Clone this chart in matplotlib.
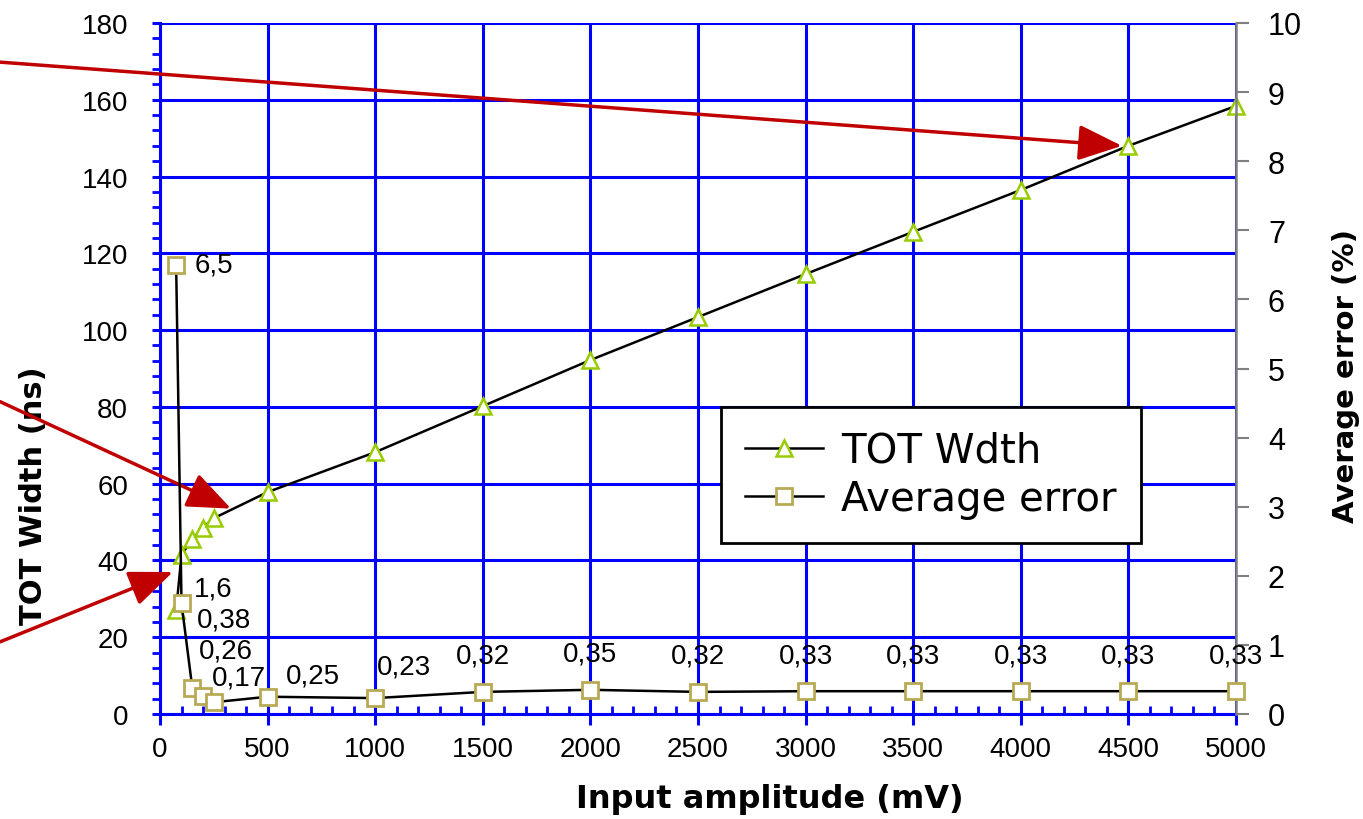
import numpy as np
import matplotlib.pyplot as plt
from matplotlib.ticker import MultipleLocator

# input amplitude (mV)
amplitude = [75, 100, 150, 200, 250, 500, 1000, 1500, 2000, 2500,
             3000, 3500, 4000, 4500, 5000]
# TOT width (ns)
tot_width = [27, 41.5, 45.5, 48.5, 51, 57.8, 68.2, 80.2, 92.2, 103.4,
             114.6, 125.6, 136.5, 148, 158.4]
# average error (%)
avg_error = [6.5, 1.6, 0.38, 0.26, 0.17, 0.25, 0.23, 0.32, 0.35, 0.32,
             0.33, 0.33, 0.33, 0.33, 0.33]

# label offsets in pixels (dx, dy, ha) for the hand-placed error labels
label_offsets = [(18, 0, 'left'), (12, 15, 'left'), (5, 68, 'left'),
                 (-4, 46, 'left'), (-2, 25, 'left'), (18, 21, 'left'),
                 (2, 32, 'left')]

BLUE = '#0000FF'
GREY = '#808080'
RED = '#C00000'
PX = 0.72  # points per pixel at dpi 100

plt.rcParams['font.family'] = ['Liberation Sans', 'DejaVu Sans']

fig = plt.figure(figsize=(13.63, 8.2), dpi=100)
ax = fig.add_axes([160 / 1363, 1 - 715 / 820, 1076 / 1363, 691 / 820])
ax2 = ax.twinx()

ax.set_xlim(0, 5000)
ax.set_ylim(0, 180)
ax2.set_ylim(0, 10)

ax.xaxis.set_major_locator(MultipleLocator(500))
ax.xaxis.set_minor_locator(MultipleLocator(100))
ax.yaxis.set_major_locator(MultipleLocator(20))
ax.yaxis.set_minor_locator(MultipleLocator(4))
ax2.yaxis.set_major_locator(MultipleLocator(1))

ax.grid(True, which='major', color=BLUE, lw=2.2)
ax.set_axisbelow(True)

for s in ['top', 'right']:
    ax.spines[s].set_visible(False)
for s in ['left', 'bottom']:
    ax.spines[s].set_color(BLUE)
    ax.spines[s].set_linewidth(2.2)
for s in ['top', 'left', 'bottom']:
    ax2.spines[s].set_visible(False)
ax2.spines['right'].set_color(GREY)
ax2.spines['right'].set_linewidth(1.8)

ax.tick_params(axis='x', which='major', direction='out', length=8, width=2.2,
               color=BLUE, labelsize=20, pad=8)
ax.tick_params(axis='x', which='minor', direction='in', length=6, width=2,
               color=BLUE)
ax.tick_params(axis='y', which='major', direction='out', length=6, width=2.2,
               color=BLUE, labelsize=20, pad=17)
ax.tick_params(axis='y', which='minor', direction='out', length=6, width=2,
               color=BLUE)
ax2.tick_params(axis='y', which='major', direction='out', length=9, width=1.5,
                color=GREY, labelsize=22, pad=14)

l1, = ax.plot(amplitude, tot_width, color='black', lw=1.8, marker='^',
              markersize=11, markerfacecolor='white', markeredgecolor='#99CC00',
              markeredgewidth=1.8, label='TOT Wdth', clip_on=False, zorder=3)
l2, = ax2.plot(amplitude, avg_error, color='black', lw=1.8, marker='s',
               markersize=12, markerfacecolor='white', markeredgecolor='#B8AA55',
               markeredgewidth=2, label='Average error', clip_on=False, zorder=3)

for i, (x, v) in enumerate(zip(amplitude, avg_error)):
    txt = ('%g' % v).replace('.', ',')
    if i < len(label_offsets):
        dx, dy, ha = label_offsets[i]
    else:
        dx, dy, ha = 0, 36, 'center'
    ax2.annotate(txt, (x, v), xytext=(dx * PX, dy * PX), textcoords='offset points',
                 ha=ha, va='center', fontsize=20, annotation_clip=False, zorder=5)

ax.set_xlabel('Input amplitude (mV)', fontsize=23, fontweight='bold',
              family='DejaVu Sans')
ax.xaxis.set_label_coords(0.567, -0.1)
ax.set_ylabel('TOT Width (ns)', fontsize=22, fontweight='bold', family='DejaVu Sans')
ax.yaxis.set_label_coords(-0.104, 0.318)
ax2.set_ylabel('Average error (%)', fontsize=21, fontweight='bold', family='DejaVu Sans')
ax2.yaxis.set_label_coords(1.089, 0.49)

leg = ax2.legend(handles=[l1, l2], loc='lower left', bbox_to_anchor=(0.521, 0.2475),
                 prop={'family': 'DejaVu Sans', 'size': 29}, frameon=True,
                 fancybox=False, framealpha=1, edgecolor='black',
                 handlelength=1.95, borderpad=0.6, handletextpad=0.45,
                 labelspacing=0.2, borderaxespad=0)
leg.get_frame().set_linewidth(2)
leg.set_zorder(10)

# red pointer arrows coming in from the left edge
arrows = [((4470, 148), 0.923), ((330, 53.5), 0.509), ((60, 37), 0.216)]
for (tx, ty), fy in arrows:
    ax.annotate('', xy=(tx, ty), xycoords='data', xytext=(0, fy),
                textcoords='figure fraction', annotation_clip=False,
                arrowprops=dict(arrowstyle='-|>,head_length=1.35,head_width=0.55',
                                mutation_scale=20, color=RED, lw=2.5,
                                shrinkA=0, shrinkB=0), zorder=20)

fig.savefig('out.png', dpi=100)
